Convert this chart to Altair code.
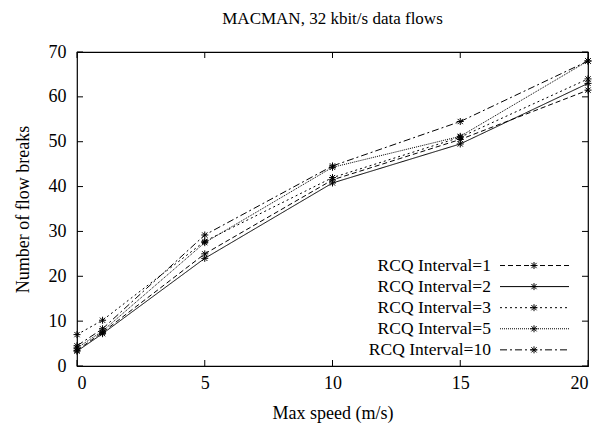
import altair as alt
import pandas as pd

# ---- data ----
speed = [0, 1, 5, 10, 15, 20]
series_names = ["RCQ Interval=1", "RCQ Interval=2", "RCQ Interval=3",
                "RCQ Interval=5", "RCQ Interval=10"]
rcq1 = [3.5, 7.5, 25.0, 41.5, 50.5, 61.5]
rcq2 = [3.3, 7.2, 24.0, 40.8, 49.5, 63.0]
rcq3 = [7.0, 10.2, 27.8, 42.0, 51.0, 64.0]
rcq5 = [4.0, 7.8, 27.5, 44.3, 51.2, 68.0]
rcq10 = [4.5, 8.3, 29.2, 44.6, 54.5, 68.0]
x_ticks = [0, 5, 10, 15, 20]
y_ticks = [0, 10, 20, 30, 40, 50, 60, 70]
legend_rows = [22.4, 17.7, 13.0, 8.3, 3.6]   # legend row positions (y units)

# ---- style ----
W, H = 511, 314
FONT = "Liberation Serif"
STAR = "M-1,0L1,0M0,-1L0,1M-0.75,-0.75L0.75,0.75M-0.75,0.75L0.75,-0.75"
dash_range = [[5, 3], [1, 0], [2, 3], [1, 1], [7, 3, 2, 3]]

rows = []
for name, vals in zip(series_names, [rcq1, rcq2, rcq3, rcq5, rcq10]):
    for s, v in zip(speed, vals):
        rows.append({"speed": s, "breaks": v, "series": name})
df = pd.DataFrame(rows)

xs = alt.Scale(domain=[0, 20], nice=False, zero=False)
ys = alt.Scale(domain=[0, 70], nice=False)
xaxis = alt.Axis(values=x_ticks, title="Max speed (m/s)", domain=False, ticks=False,
                 grid=False, labelPadding=8, titlePadding=12, labelFontSize=18,
                 titleFontSize=18, labelColor="black", titleColor="black",
                 titleFontWeight="normal", labelFont=FONT, titleFont=FONT)
yaxis = alt.Axis(values=y_ticks, title="Number of flow breaks", domain=False, ticks=False,
                 grid=False, labelPadding=11, titlePadding=16, labelFontSize=18,
                 titleFontSize=18, labelColor="black", titleColor="black",
                 titleFontWeight="normal", labelFont=FONT, titleFont=FONT)
dash = alt.StrokeDash("series:N", scale=alt.Scale(domain=series_names, range=dash_range),
                      legend=None)

base = alt.Chart(df)
lines = base.mark_line(color="black", strokeWidth=1).encode(
    x=alt.X("speed:Q", scale=xs, axis=xaxis),
    y=alt.Y("breaks:Q", scale=ys, axis=yaxis),
    strokeDash=dash,
    detail="series:N",
)
points = base.mark_point(shape=STAR, size=49, color="black", strokeWidth=1,
                         filled=False, opacity=1).encode(
    x=alt.X("speed:Q", scale=xs, axis=xaxis),
    y=alt.Y("breaks:Q", scale=ys, axis=yaxis),
)

# inside ticks on all four borders
ytdf = pd.DataFrame({"v": y_ticks})
xtdf = pd.DataFrame({"v": x_ticks})
tl = alt.Chart(ytdf).mark_rule(color="black").encode(
    y=alt.Y("v:Q", scale=ys, axis=yaxis), x=alt.value(0), x2=alt.value(6))
tr = alt.Chart(ytdf).mark_rule(color="black").encode(
    y=alt.Y("v:Q", scale=ys, axis=yaxis), x=alt.value(W - 6), x2=alt.value(W))
tb = alt.Chart(xtdf).mark_rule(color="black").encode(
    x=alt.X("v:Q", scale=xs, axis=xaxis), y=alt.value(H - 6), y2=alt.value(H))
tt = alt.Chart(xtdf).mark_rule(color="black").encode(
    x=alt.X("v:Q", scale=xs, axis=xaxis), y=alt.value(0), y2=alt.value(6))

# custom legend: label, then line sample with star
ldf = pd.DataFrame({"series": series_names, "ly": legend_rows})
lbase = alt.Chart(ldf)
ltext = lbase.mark_text(align="right", baseline="middle", font=FONT, fontSize=17.5,
                        color="black").encode(
    x=alt.value(414), y=alt.Y("ly:Q", scale=ys, axis=yaxis), text="series:N")
lrule = lbase.mark_rule(color="black", strokeWidth=1).encode(
    x=alt.value(423), x2=alt.value(492), y=alt.Y("ly:Q", scale=ys, axis=yaxis),
    strokeDash=dash)
lstar = lbase.mark_point(shape=STAR, size=49, color="black", strokeWidth=1,
                         filled=False, opacity=1).encode(
    x=alt.value(457), y=alt.Y("ly:Q", scale=ys, axis=yaxis))

chart = alt.layer(lines, points, tl, tr, tb, tt, ltext, lrule, lstar).properties(
    width=W, height=H,
    title=alt.TitleParams("MACMAN, 32 kbit/s data flows", font=FONT, fontSize=17,
                          fontWeight="normal", color="black", offset=15, anchor="middle"),
    padding={"left": 6, "top": 2, "right": 5, "bottom": 5},
).configure(background="white", font=FONT).configure_view(
    stroke="black", strokeWidth=1.2
).configure_axis(labelFont=FONT, titleFont=FONT).configure_text(font=FONT)

chart.save("out.html", embed_options={"renderer": "svg", "actions": False})
